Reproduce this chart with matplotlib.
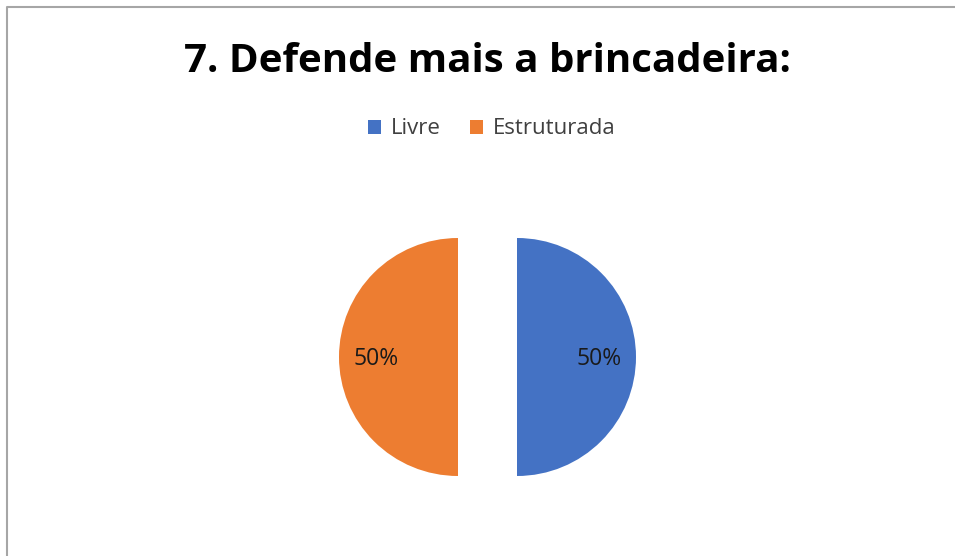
import matplotlib
matplotlib.use("Agg")
import matplotlib.pyplot as plt
from matplotlib.lines import Line2D

# data
categories = ["Livre", "Estruturada"]
values = [50, 50]
colors = ["#4472C4", "#ED7D31"]
title = "7. Defende mais a brincadeira:"

W, H = 955, 556
fig = plt.figure(figsize=(W / 100, H / 100), dpi=100)
ax = fig.add_axes([0, 0, 1, 1])

# chart frame (only top and left edges visible)
ax.add_line(Line2D([6.5, 6.5, W], [0, H - 6.5, H - 6.5], color="#a6a6a6", lw=1.5))

# explode is in data units here (pixels)
wedges, texts, autotexts = ax.pie(
    values,
    colors=colors,
    startangle=90,
    counterclock=False,
    explode=[29.5, 29.5],
    center=(487.5, H - 357),
    radius=119,
    autopct="%1.0f%%",
    pctdistance=0.69,
    textprops=dict(fontsize=16.5, color="#1a1a1a", family="Open Sans"),
    frame=True,
)
for t in autotexts:
    t.set_y(t.get_position()[1] - 2)
ax.set_xlim(0, W)
ax.set_ylim(0, H)
ax.axis("off")

fig.text(487.5 / W, 1 - 61 / H, title, ha="center", va="center",
         fontsize=29, fontweight="bold", family="Open Sans", color="#000000")

leg = ax.legend(wedges, categories, loc="center", bbox_to_anchor=(492 / W, 1 - 129 / H),
                ncol=2, frameon=False, handlelength=0.6, handleheight=0.6,
                handletextpad=0.45, columnspacing=1.3, prop=dict(family="Open Sans", size=16))
for t in leg.get_texts():
    t.set_color("#404040")

fig.savefig("out.png", dpi=100)
